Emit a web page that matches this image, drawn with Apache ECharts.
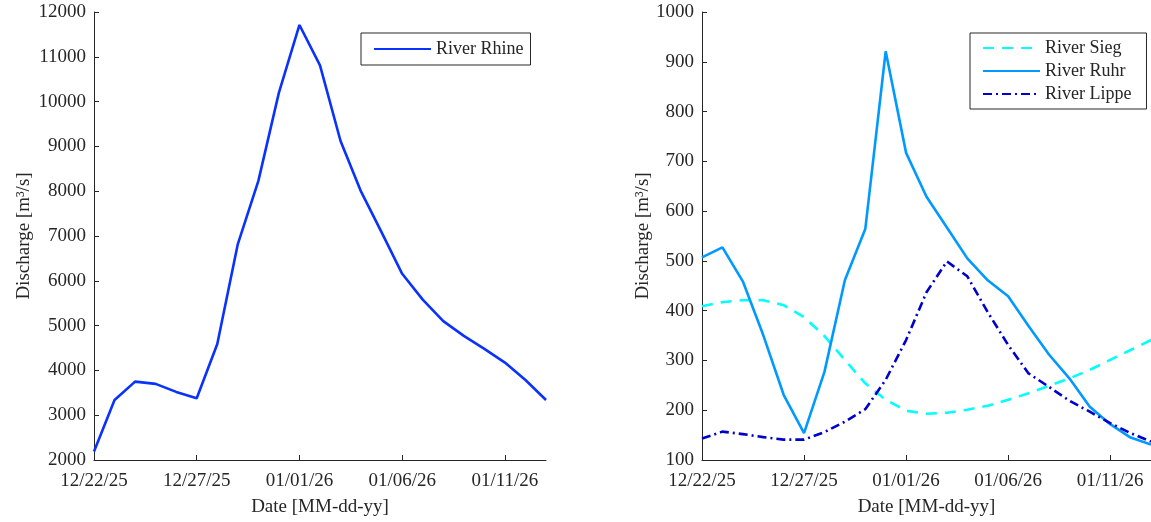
<!DOCTYPE html>
<html>
<head>
<meta charset="utf-8">
<script src="https://cdn.jsdelivr.net/npm/echarts@6/dist/echarts.min.js"></script>
<style>html,body{margin:0;padding:0;background:#fff;overflow:hidden}#c{width:1151px;height:522px}</style>
</head>
<body>
<div id="c"></div>
<script>
const dates = ["12/22/25","12/23/25","12/24/25","12/25/25","12/26/25","12/27/25","12/28/25","12/29/25","12/30/25","12/31/25","01/01/26","01/02/26","01/03/26","01/04/26","01/05/26","01/06/26","01/07/26","01/08/26","01/09/26","01/10/26","01/11/26","01/12/26","01/13/26"];
const rhine = [2190,3340,3750,3700,3520,3380,4590,6820,8230,10200,11710,10810,9120,7990,7080,6156,5580,5100,4770,4480,4175,3785,3340];
const sieg  = [409,417,421,421,411,387,349,301,254,221,199,193,195,201,209,221,234,249,264,281,301,321,341];
const ruhr  = [507,527,459,351,231,154,277,461,564,921,717,629,567,505,461,429,369,312,264,207,172,145,131];
const lippe = [143,157,152,146,141,141,156,177,202,261,341,437,499,469,397,331,274,247,219,197,174,154,137];

const FONT = "Liberation Serif";
const TXT = "#262626";
const chart = echarts.init(document.getElementById('c'), null, {renderer:'canvas'});

function xAx(gi){
  return {
    type:'category', gridIndex:gi, data:dates, boundaryGap:false,
    name:'Date [MM-dd-yy]', nameLocation:'middle', nameGap:38,
    nameTextStyle:{fontFamily:FONT, fontSize:19, color:TXT},
    axisLine:{lineStyle:{color:TXT, width:1}},
    axisTick:{inside:true, length:5, interval:4, lineStyle:{color:TXT}},
    axisLabel:{interval:4, fontFamily:FONT, fontSize:19, color:TXT, margin:12},
    splitLine:{show:false}
  };
}
function yAx(gi, mn, mx, iv, gap){
  return {
    type:'value', gridIndex:gi, min:mn, max:mx, interval:iv,
    name:'Discharge [m³/s]', nameLocation:'middle', nameGap:gap,
    nameTextStyle:{fontFamily:FONT, fontSize:19, color:TXT},
    axisLine:{show:true, lineStyle:{color:TXT, width:1}},
    axisTick:{show:true, inside:true, length:5, lineStyle:{color:TXT}},
    axisLabel:{fontFamily:FONT, fontSize:19, color:TXT, margin:8, formatter:function(v){return String(v);}},
    splitLine:{show:false}
  };
}

chart.setOption({
  animation:false,
  backgroundColor:'#fff',
  grid:[
    {left:94, right:605, top:12, bottom:60},
    {left:702, right:-3, top:12, bottom:60}
  ],
  xAxis:[xAx(0), xAx(1)],
  yAxis:[yAx(0,2000,12000,1000,60), yAx(1,100,1000,100,48)],
  legend:[
    {data:['River Rhine'], left:361, top:33, orient:'vertical',
     itemWidth:57, itemHeight:14, itemGap:9, padding:[7,7,7,12],
     itemStyle:{opacity:0},
     borderColor:TXT, borderWidth:1, backgroundColor:'#fff',
     textStyle:{fontFamily:FONT, fontSize:18, color:TXT}},
    {data:['River Sieg','River Ruhr','River Lippe'], left:970, top:33, orient:'vertical',
     itemWidth:57, itemHeight:14, itemGap:5, padding:[6,15,6,12],
     itemStyle:{opacity:0},
     borderColor:TXT, borderWidth:1, backgroundColor:'#fff',
     textStyle:{fontFamily:FONT, fontSize:18, color:TXT}}
  ],
  series:[
    {name:'River Rhine', type:'line', xAxisIndex:0, yAxisIndex:0, data:rhine,
     symbol:'none', lineStyle:{color:'#0a32ff', width:2.6}, itemStyle:{color:'#0a32ff'}},
    {name:'River Sieg', type:'line', xAxisIndex:1, yAxisIndex:1, data:sieg,
     symbol:'none', lineStyle:{color:'#00ffff', width:2.6, type:[11,8]}, itemStyle:{color:'#00ffff'}},
    {name:'River Ruhr', type:'line', xAxisIndex:1, yAxisIndex:1, data:ruhr,
     symbol:'none', lineStyle:{color:'#0099ff', width:2.6}, itemStyle:{color:'#0099ff'}},
    {name:'River Lippe', type:'line', xAxisIndex:1, yAxisIndex:1, data:lippe,
     symbol:'none', lineStyle:{color:'#0000cc', width:2.6, type:[9,4,2,4]}, itemStyle:{color:'#0000cc'}}
  ]
});
</script>
</body>
</html>
